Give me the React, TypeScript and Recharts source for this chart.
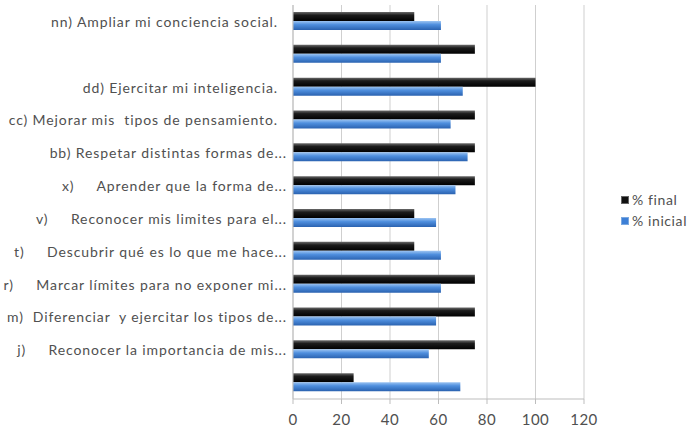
import React from 'react';
import { BarChart, Bar, XAxis, YAxis, CartesianGrid, Legend } from 'recharts';

const categories: string[] = [
  'nn) Ampliar mi conciencia social.  ',
  '',
  'dd) Ejercitar mi inteligencia.  ',
  'cc) Mejorar mis  tipos de pensamiento.  ',
  'bb) Respetar distintas formas de...',
  'x)     Aprender que la forma de...',
  'v)     Reconocer mis limites para el...',
  't)     Descubrir qué es lo que me hace...',
  'r)     Marcar límites para no exponer mi...',
  'm)  Diferenciar  y ejercitar los tipos de...',
  'j)     Reconocer la importancia de mis...',
  ' ',
];
const finalValues: number[] = [50, 75, 100, 75, 75, 75, 50, 50, 75, 75, 75, 25];
const initialValues: number[] = [61, 61, 70, 65, 72, 67, 59, 61, 61, 59, 56, 69];
const xTicks: number[] = [0, 20, 40, 60, 80, 100, 120];

const data = categories.map((c, i) => ({
  label: c,
  final: finalValues[i],
  inicial: initialValues[i],
}));

const FONT = 'Lato, "Open Sans", sans-serif';

const YTick = (props: any) => {
  const { x, y, payload } = props;
  return (
    <text
      x={x}
      y={y}
      textAnchor="end"
      dominantBaseline="central"
      fontFamily={FONT}
      fontSize={14}
      letterSpacing={0.9}
      fill="#505050"
      style={{ whiteSpace: 'pre' }}
    >
      {payload.value}
    </text>
  );
};

const LegendContent = () => (
  <div style={{ fontFamily: FONT, fontSize: 14, letterSpacing: 0.6, color: '#505050', lineHeight: '21px' }}>
    <div style={{ display: 'flex', alignItems: 'center' }}>
      <span style={{ width: 6, height: 6, background: '#111', border: '1px solid #666', marginRight: 3, display: 'inline-block' }} />
      <span>% final</span>
    </div>
    <div style={{ display: 'flex', alignItems: 'center' }}>
      <span style={{ width: 6, height: 6, background: '#3d7fd6', border: '1px solid #7aa8e0', marginRight: 3, display: 'inline-block' }} />
      <span>% inicial</span>
    </div>
  </div>
);

export default function App() {
  return (
    <div style={{ position: 'absolute', left: 0, top: 0, width: 692, height: 430, background: '#fff' }}>
      <BarChart
        width={692}
        height={430}
        data={data}
        layout="vertical"
        margin={{ top: 5, right: 108, bottom: 0, left: 0 }}
        barSize={9}
        barGap={0}
      >
        <defs>
          <linearGradient id="gFinal" x1="0" y1="0" x2="0" y2="1">
            <stop offset="0%" stopColor="#6a6a6a" />
            <stop offset="35%" stopColor="#1c1c1c" />
            <stop offset="100%" stopColor="#000000" />
          </linearGradient>
          <linearGradient id="gInicial" x1="0" y1="0" x2="0" y2="1">
            <stop offset="0%" stopColor="#9cc4f2" />
            <stop offset="40%" stopColor="#4f8fde" />
            <stop offset="100%" stopColor="#2a62b0" />
          </linearGradient>
        </defs>
        <CartesianGrid horizontal={false} vertical={true} stroke="#cfcfcf" />
        <XAxis
          type="number"
          domain={[0, 120]}
          ticks={xTicks}
          height={31}
          axisLine={{ stroke: '#bdbdbd' }}
          tickLine={{ stroke: '#bdbdbd' }}
          tickSize={5}
          tickMargin={10}
          tick={{ fill: '#505050', fontSize: 15, fontFamily: FONT, letterSpacing: 0.5 }}
        />
        <YAxis
          type="category"
          dataKey="label"
          width={293}
          axisLine={{ stroke: '#bdbdbd' }}
          tickLine={false}
          tickSize={0}
          tickMargin={6}
          interval={0}
          tick={<YTick />}
        />
        <Legend
          layout="horizontal"
          verticalAlign="middle"
          align="center"
          content={<LegendContent />}
          wrapperStyle={{ position: 'absolute', left: 621, top: 189, width: 71 }}
        />
        <Bar dataKey="final" name="% final" fill="url(#gFinal)" isAnimationActive={false} />
        <Bar dataKey="inicial" name="% inicial" fill="url(#gInicial)" isAnimationActive={false} />
      </BarChart>
    </div>
  );
}
